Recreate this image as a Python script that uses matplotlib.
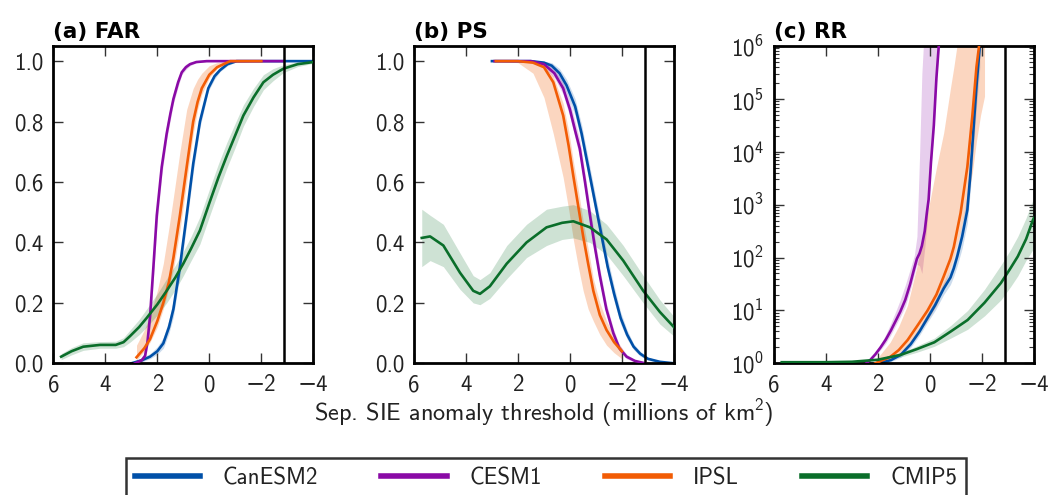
import numpy as np
import matplotlib
matplotlib.use('Agg')
import matplotlib.pyplot as plt
from matplotlib.ticker import FixedLocator, FuncFormatter, FormatStrFormatter, LogLocator, NullFormatter

plt.rcParams['font.family'] = ['cmss10', 'DejaVu Sans']
plt.rcParams['axes.unicode_minus'] = True
plt.rcParams['mathtext.fontset'] = 'dejavusans'

models = ['CanESM2', 'CESM1', 'IPSL', 'CMIP5']
colors = ['#0050a8', '#8a0aa6', '#f25c05', '#0a6e2a']
obs_line = -2.88

# ---- (a) FAR ----
far_can_x = [3.0, 2.6, 2.28, 2.0, 1.77, 1.55, 1.38, 1.13, 0.87, 0.62, 0.36, 0.04, -0.2, -0.41, -0.7, -1.05, -2.0, -3.0, -4.0]
far_can_y = [0.0, 0.01, 0.022, 0.04, 0.066, 0.12, 0.18, 0.32, 0.49, 0.66, 0.80, 0.91, 0.95, 0.97, 0.99, 1.0, 1.0, 1.0, 1.0]
far_can_lo = [0.0, 0.005, 0.015, 0.03, 0.05, 0.1, 0.155, 0.29, 0.46, 0.63, 0.78, 0.9, 0.94, 0.965, 0.985, 0.998, 1.0, 1.0, 1.0]
far_can_hi = [0.005, 0.018, 0.032, 0.055, 0.085, 0.145, 0.21, 0.35, 0.52, 0.69, 0.82, 0.925, 0.96, 0.978, 0.995, 1.0, 1.0, 1.0, 1.0]

far_cesm_x = [2.86, 2.73, 2.6, 2.47, 2.38, 2.28, 2.15, 2.02, 1.83, 1.64, 1.5, 1.38, 1.2, 1.06, 0.9, 0.74, 0.5, 0.1, -1.0, -2.0, -2.85]
far_cesm_y = [0.0, 0.005, 0.01, 0.025, 0.07, 0.155, 0.32, 0.49, 0.65, 0.76, 0.825, 0.875, 0.93, 0.963, 0.98, 0.99, 0.997, 1.0, 1.0, 1.0, 1.0]
far_cesm_lo = [0.0, 0.0, 0.004, 0.015, 0.05, 0.12, 0.28, 0.45, 0.62, 0.74, 0.805, 0.86, 0.915, 0.955, 0.972, 0.985, 0.995, 0.998, 1.0, 1.0, 1.0]
far_cesm_hi = [0.005, 0.012, 0.02, 0.04, 0.1, 0.19, 0.36, 0.53, 0.68, 0.79, 0.85, 0.895, 0.945, 0.975, 0.99, 0.997, 1.0, 1.0, 1.0, 1.0, 1.0]

far_ipsl_x = [2.8, 2.5, 2.28, 2.0, 1.77, 1.55, 1.38, 1.13, 0.87, 0.62, 0.45, 0.29, 0.0, -0.3, -0.8, -2.0]
far_ipsl_y = [0.02, 0.05, 0.08, 0.14, 0.2, 0.27, 0.35, 0.49, 0.65, 0.80, 0.865, 0.91, 0.955, 0.98, 1.0, 1.0]
far_ipsl_lo = [0.01, 0.04, 0.07, 0.12, 0.18, 0.25, 0.31, 0.44, 0.60, 0.76, 0.84, 0.89, 0.945, 0.975, 0.995, 1.0]
far_ipsl_hi = [0.06, 0.11, 0.16, 0.24, 0.33, 0.45, 0.55, 0.70, 0.84, 0.91, 0.94, 0.96, 0.985, 0.995, 1.0, 1.0]

far_cmip_x = [5.7, 5.3, 4.85, 4.2, 3.6, 3.3, 3.05, 2.7, 2.41, 2.0, 1.64, 1.3, 1.0, 0.7, 0.36, 0.0, -0.35,
              -0.67, -1.0, -1.31, -1.7, -2.08, -2.45, -2.85, -3.4, -4.0]
far_cmip_y = [0.022, 0.04, 0.055, 0.061, 0.061, 0.07, 0.09, 0.12, 0.15, 0.195, 0.24, 0.285, 0.33, 0.38, 0.44,
              0.53, 0.615, 0.686, 0.755, 0.82, 0.88, 0.93, 0.955, 0.975, 0.99, 0.997]
far_cmip_lo = [0.012, 0.028, 0.043, 0.05, 0.05, 0.055, 0.07, 0.095, 0.12, 0.16, 0.2, 0.245, 0.29, 0.34, 0.395,
               0.485, 0.57, 0.645, 0.715, 0.785, 0.85, 0.905, 0.935, 0.962, 0.982, 0.993]
far_cmip_hi = [0.032, 0.052, 0.068, 0.072, 0.073, 0.085, 0.11, 0.145, 0.18, 0.23, 0.28, 0.325, 0.37, 0.42, 0.485,
               0.575, 0.66, 0.73, 0.795, 0.855, 0.91, 0.955, 0.975, 0.988, 0.997, 1.0]

# ---- (b) PS ----
ps_can_x = [3.0, 1.5, 1.0, 0.7, 0.4, 0.13, -0.2, -0.45, -0.7, -0.95, -1.2, -1.45, -1.7, -1.95, -2.2, -2.45, -2.7, -3.0, -3.46, -4.0]
ps_can_y = [1.0, 1.0, 0.995, 0.985, 0.96, 0.92, 0.85, 0.76, 0.65, 0.54, 0.43, 0.32, 0.23, 0.15, 0.095, 0.055, 0.032, 0.015, 0.005, 0.0]
ps_can_lo = [1.0, 0.998, 0.985, 0.97, 0.94, 0.895, 0.82, 0.73, 0.62, 0.51, 0.4, 0.295, 0.205, 0.13, 0.08, 0.045, 0.024, 0.01, 0.002, 0.0]
ps_can_hi = [1.0, 1.0, 1.0, 0.995, 0.975, 0.94, 0.875, 0.79, 0.68, 0.57, 0.46, 0.35, 0.255, 0.17, 0.11, 0.065, 0.04, 0.02, 0.008, 0.002]

ps_cesm_x = [2.9, 1.5, 1.0, 0.6, 0.26, 0.0, -0.2, -0.38, -0.58, -0.77, -0.95, -1.15, -1.4, -1.67, -1.9, -2.18, -2.5, -2.9]
ps_cesm_y = [1.0, 1.0, 0.99, 0.96, 0.91, 0.84, 0.77, 0.71, 0.6, 0.49, 0.39, 0.29, 0.18, 0.1, 0.05, 0.022, 0.008, 0.0]
ps_cesm_lo = [1.0, 0.995, 0.98, 0.945, 0.89, 0.815, 0.745, 0.68, 0.57, 0.46, 0.36, 0.265, 0.16, 0.085, 0.04, 0.015, 0.004, 0.0]
ps_cesm_hi = [1.0, 1.0, 0.997, 0.975, 0.93, 0.865, 0.8, 0.74, 0.63, 0.52, 0.42, 0.315, 0.2, 0.115, 0.062, 0.03, 0.012, 0.003]

ps_ipsl_x = [2.85, 2.0, 1.42, 1.0, 0.64, 0.26, 0.05, -0.13, -0.32, -0.51, -0.7, -0.9, -1.15, -1.41, -1.7, -2.0]
ps_ipsl_y = [1.0, 1.0, 0.995, 0.98, 0.93, 0.82, 0.72, 0.62, 0.52, 0.42, 0.33, 0.24, 0.16, 0.11, 0.07, 0.04]
ps_ipsl_lo = [1.0, 0.995, 0.96, 0.88, 0.76, 0.615, 0.51, 0.41, 0.32, 0.24, 0.18, 0.14, 0.095, 0.06, 0.035, 0.015]
ps_ipsl_hi = [1.0, 1.0, 1.0, 0.99, 0.95, 0.86, 0.77, 0.67, 0.575, 0.47, 0.38, 0.28, 0.2, 0.14, 0.09, 0.05]

ps_cmip_x = [5.7, 5.38, 4.87, 4.23, 3.72, 3.46, 3.08, 2.43, 1.67, 0.9, 0.3, -0.13, -0.77, -1.41, -2.05, -2.82, -3.46, -4.0]
ps_cmip_y = [0.415, 0.42, 0.39, 0.30, 0.24, 0.23, 0.255, 0.33, 0.40, 0.45, 0.465, 0.47, 0.45, 0.41, 0.34, 0.24, 0.17, 0.12]
ps_cmip_lo = [0.32, 0.34, 0.32, 0.245, 0.2, 0.194, 0.215, 0.28, 0.35, 0.39, 0.41, 0.415, 0.40, 0.36, 0.29, 0.20, 0.13, 0.09]
ps_cmip_hi = [0.51, 0.49, 0.46, 0.365, 0.29, 0.277, 0.30, 0.39, 0.46, 0.51, 0.52, 0.525, 0.505, 0.46, 0.39, 0.29, 0.21, 0.155]

# ---- (c) RR ----
rr_can_x = [2.0, 1.5, 1.12, 0.74, 0.4, 0.1, -0.2, -0.53, -0.79, -0.92, -1.05, -1.24, -1.44, -1.56, -1.7, -1.8, -1.92]
rr_can_y = [1.0, 1.15, 1.45, 2.3, 4.0, 7.1, 12.6, 26, 42, 63, 105, 250, 800, 4000, 40000, 200000, 1e6]
rr_can_lo = [1.0, 1.08, 1.3, 2.0, 3.4, 5.9, 10, 20, 31, 45, 70, 150, 450, 2000, 18000, 80000, 4e5]
rr_can_hi = [1.05, 1.25, 1.65, 2.7, 4.8, 8.8, 16, 34, 60, 95, 170, 450, 1600, 9000, 1e5, 6e5, 3e6]

rr_cesm_x = [2.45, 2.3, 2.1, 1.9, 1.7, 1.5, 1.3, 1.14, 0.95, 0.76, 0.6, 0.5, 0.4, 0.31, 0.2, 0.12, 0.05, -0.04, -0.15, -0.25, -0.34]
rr_cesm_y = [1.0, 1.15, 1.48, 2.0, 2.8, 4.2, 6.6, 9.5, 15.8, 31.6, 63, 95, 120, 166, 316, 690, 1260, 6300, 31600, 251000, 1e6]
rr_cesm_lo = [1.0, 1.1, 1.38, 1.8, 2.4, 3.5, 5.4, 7.6, 12, 24, 48, 75, 70, 50, 150, 400, 1000, 5000, 25000, 200000, 8e5]
rr_cesm_hi = [1.02, 1.2, 1.6, 2.3, 3.5, 5.8, 10, 16, 30, 60, 110, 250, 8000, 3e5, 3e6, 3e6, 3e6, 3e6, 3e6, 3e6, 3e6]

rr_ipsl_x = [2.1, 1.53, 1.2, 0.86, 0.5, 0.09, -0.25, -0.53, -0.79, -0.92, -1.18, -1.44, -1.63, -1.79, -1.89]
rr_ipsl_y = [1.0, 1.32, 1.78, 2.75, 5.0, 10, 20, 44, 95, 160, 700, 5200, 47000, 400000, 1e6]
rr_ipsl_band_x = [2.1, 1.53, 1.2, 0.86, 0.5, 0.09, -0.25, -0.53, -0.79, -0.92, -1.18, -1.44, -1.63, -1.79, -1.95, -2.1]
rr_ipsl_lo = [1.0, 1.2, 1.5, 2.1, 3.5, 6.6, 12.6, 28, 63, 100, 316, 1260, 4000, 16000, 50000, 112000]
rr_ipsl_hi = [1.12, 2.5, 5.0, 12.6, 68, 700, 5000, 23000, 160000, 400000, 3e6, 3e6, 3e6, 3e6, 3e6, 3e6]

rr_cmip_x = [5.7, 4.0, 3.0, 2.0, 1.12, 0.5, -0.17, -0.8, -1.45, -2.1, -2.73, -3.1, -3.38, -3.7, -3.96, -4.0]
rr_cmip_y = [1.05, 1.05, 1.07, 1.17, 1.45, 1.86, 2.5, 4.0, 6.6, 14, 33, 63, 105, 224, 510, 560]
rr_cmip_lo = [1.02, 1.02, 1.05, 1.12, 1.32, 1.62, 2.1, 3.0, 4.4, 7.9, 15.8, 28, 45, 89, 141, 158]
rr_cmip_hi = [1.07, 1.07, 1.1, 1.23, 1.58, 2.14, 3.0, 5.2, 10, 25, 72, 141, 251, 562, 1230, 1410]

band_alpha = [0.2, 0.2, 0.25, 0.2]

fig = plt.figure(figsize=(10.52, 4.95), dpi=100)
lefts = [0.0507, 0.3935, 0.7357]
axes = [fig.add_axes([l, 0.266, 0.2471, 0.641]) for l in lefts]

panels = [
    [(far_can_x, far_can_y, far_can_x, far_can_lo, far_can_hi),
     (far_cesm_x, far_cesm_y, far_cesm_x, far_cesm_lo, far_cesm_hi),
     (far_ipsl_x, far_ipsl_y, far_ipsl_x, far_ipsl_lo, far_ipsl_hi),
     (far_cmip_x, far_cmip_y, far_cmip_x, far_cmip_lo, far_cmip_hi)],
    [(ps_can_x, ps_can_y, ps_can_x, ps_can_lo, ps_can_hi),
     (ps_cesm_x, ps_cesm_y, ps_cesm_x, ps_cesm_lo, ps_cesm_hi),
     (ps_ipsl_x, ps_ipsl_y, ps_ipsl_x, ps_ipsl_lo, ps_ipsl_hi),
     (ps_cmip_x, ps_cmip_y, ps_cmip_x, ps_cmip_lo, ps_cmip_hi)],
    [(rr_can_x, rr_can_y, rr_can_x, rr_can_lo, rr_can_hi),
     (rr_cesm_x, rr_cesm_y, rr_cesm_x, rr_cesm_lo, rr_cesm_hi),
     (rr_ipsl_x, rr_ipsl_y, rr_ipsl_band_x, rr_ipsl_lo, rr_ipsl_hi),
     (rr_cmip_x, rr_cmip_y, rr_cmip_x, rr_cmip_lo, rr_cmip_hi)],
]
titles = ['(a) FAR', '(b) PS', '(c) RR']

for i, ax in enumerate(axes):
    for j, (x, y, bx, lo, hi) in enumerate(panels[i]):
        ax.fill_between(bx, lo, hi, color=colors[j], alpha=band_alpha[j], lw=0, zorder=1)
    for j, (x, y, bx, lo, hi) in enumerate(panels[i]):
        ax.plot(x, y, color=colors[j], lw=1.9, zorder=2 + j, label=models[j])
    ax.axvline(obs_line, color='k', lw=1.8, zorder=10)
    ax.set_xlim(6, -4)
    ax.xaxis.set_major_locator(FixedLocator([6, 4, 2, 0, -2, -4]))
    if i < 2:
        ax.set_ylim(0, 1.05)
        ax.yaxis.set_major_locator(FixedLocator([0, 0.2, 0.4, 0.6, 0.8, 1.0]))
        ax.yaxis.set_major_formatter(FormatStrFormatter('%.1f'))
    else:
        ax.set_yscale('log')
        ax.set_ylim(1, 1e6)
        ax.yaxis.set_major_locator(FixedLocator([1, 10, 1e2, 1e3, 1e4, 1e5, 1e6]))
        ax.yaxis.set_major_formatter(FuncFormatter(lambda v, p: r'$\mathregular{10^{%d}}$' % round(np.log10(v))))
        ax.yaxis.set_minor_locator(LogLocator(base=10, subs=np.arange(2, 10)))
        ax.yaxis.set_minor_formatter(NullFormatter())
    for s in ax.spines.values():
        s.set_linewidth(2.0)
    ax.tick_params(which='major', direction='in', top=True, right=True, length=7, width=1,
                   labelsize=16.5, color='#333333', labelcolor='#222222')
    ax.tick_params(axis='x', pad=8)
    ax.tick_params(axis='y', pad=7)
    ax.tick_params(which='minor', direction='in', right=True, length=3.5, width=0.8, color='#333333')
    ax.set_title(titles[i], loc='left', fontsize=15.5, fontweight='bold', family='DejaVu Sans', pad=6)

fig.text(0.517, 0.166, r'Sep. SIE anomaly threshold (millions of km$^\mathregular{2}$)',
         ha='center', va='center', fontsize=17.5, color='#222222')

handles, labels = axes[0].get_legend_handles_labels()
leg = fig.legend(handles, labels, loc='upper center', bbox_to_anchor=(0.519, 0.0747), ncol=4,
                 fontsize=16.5, frameon=True, fancybox=False, edgecolor='k', handlelength=2.85,
                 handletextpad=1.0, columnspacing=2.75, borderpad=0.4, borderaxespad=0)
leg.get_frame().set_linewidth(1.8)
for h in leg.get_lines():
    h.set_linewidth(4)
for t in leg.get_texts():
    t.set_color('#222222')

fig.savefig('out.png', dpi=100)
